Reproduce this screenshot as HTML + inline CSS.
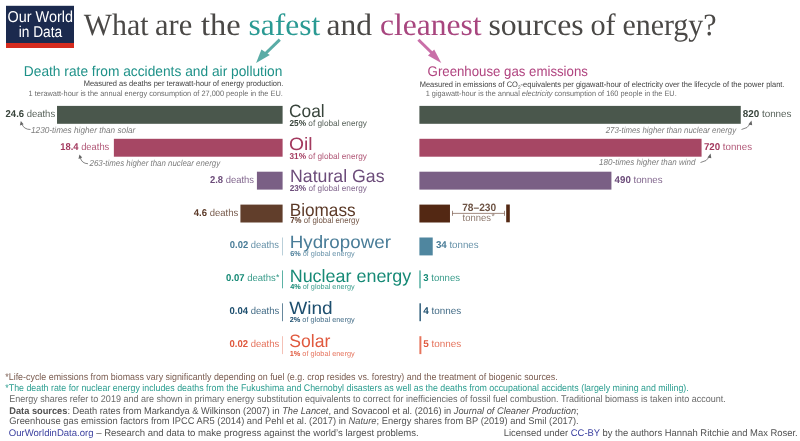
<!DOCTYPE html>
<html><head><meta charset="utf-8"><style>
html,body{margin:0;padding:0;background:#fff;width:800px;height:441px;overflow:hidden}
svg{display:block;will-change:transform}
</style></head><body>
<svg width="800" height="441" viewBox="0 0 800 441" text-rendering="geometricPrecision">
<rect x="6.00" y="5.80" width="68.00" height="37.20" fill="#1b2a4e"/>
<rect x="6.00" y="43.00" width="68.00" height="5.00" fill="#d52b1e"/>
<text x="40.30" y="21.70" font-size="15.8" fill="#ffffff" font-family="'Liberation Sans', sans-serif" text-anchor="middle" textLength="65.50" lengthAdjust="spacingAndGlyphs">Our World</text>
<text x="40.40" y="37.00" font-size="15.6" fill="#ffffff" font-family="'Liberation Sans', sans-serif" text-anchor="middle" textLength="43.50" lengthAdjust="spacingAndGlyphs">in Data</text>
<text x="83.80" y="34.60" font-size="31" fill="#4a4846" font-family="'Liberation Serif', serif" textLength="64.80" lengthAdjust="spacingAndGlyphs">What</text>
<text x="155.00" y="34.60" font-size="31" fill="#4a4846" font-family="'Liberation Serif', serif" textLength="37.20" lengthAdjust="spacingAndGlyphs">are</text>
<text x="201.00" y="34.60" font-size="31" fill="#4a4846" font-family="'Liberation Serif', serif" textLength="39.60" lengthAdjust="spacingAndGlyphs">the</text>
<text x="248.40" y="34.60" font-size="31" fill="#2a9a93" font-family="'Liberation Serif', serif" textLength="71.80" lengthAdjust="spacingAndGlyphs">safest</text>
<text x="326.60" y="34.60" font-size="31" fill="#4a4846" font-family="'Liberation Serif', serif" textLength="45.40" lengthAdjust="spacingAndGlyphs">and</text>
<text x="379.90" y="34.60" font-size="31" fill="#a8467f" font-family="'Liberation Serif', serif" textLength="101.70" lengthAdjust="spacingAndGlyphs">cleanest</text>
<text x="488.40" y="34.60" font-size="31" fill="#4a4846" font-family="'Liberation Serif', serif" textLength="95.20" lengthAdjust="spacingAndGlyphs">sources</text>
<text x="590.40" y="34.60" font-size="31" fill="#4a4846" font-family="'Liberation Serif', serif" textLength="25.20" lengthAdjust="spacingAndGlyphs">of</text>
<text x="622.40" y="34.60" font-size="31" fill="#4a4846" font-family="'Liberation Serif', serif" textLength="94.20" lengthAdjust="spacingAndGlyphs">energy?</text>
<text x="282.30" y="76.40" font-size="14.3" fill="#1e9188" font-family="'Liberation Sans', sans-serif" text-anchor="end" textLength="258.50" lengthAdjust="spacingAndGlyphs">Death rate from accidents and air pollution</text>
<text x="283.30" y="86.40" font-size="7.9" fill="#3e3e3e" font-family="'Liberation Sans', sans-serif" text-anchor="end" textLength="199.60" lengthAdjust="spacingAndGlyphs">Measured as deaths per terawatt-hour of energy production.</text>
<text x="282.90" y="95.60" font-size="7.8" fill="#6c6c6c" font-family="'Liberation Sans', sans-serif" text-anchor="end" textLength="254.30" lengthAdjust="spacingAndGlyphs">1 terawatt-hour is the annual energy consumption of 27,000 people in the EU.</text>
<text x="427.60" y="75.80" font-size="14.0" fill="#b0437f" font-family="'Liberation Sans', sans-serif" textLength="160.30" lengthAdjust="spacingAndGlyphs">Greenhouse gas emissions</text>
<text x="419.70" y="87.00" font-size="7.9" fill="#3e3e3e" font-family="'Liberation Sans', sans-serif" textLength="364.80" lengthAdjust="spacingAndGlyphs">Measured in emissions of CO<tspan font-size="5" dy="1.5">2</tspan><tspan dy="-1.5">-equivalents per gigawatt-hour of electricity over the lifecycle of the power plant.</tspan></text>
<text x="425.70" y="95.70" font-size="7.8" fill="#6c6c6c" font-family="'Liberation Sans', sans-serif" textLength="251.00" lengthAdjust="spacingAndGlyphs">1 gigawatt-hour is the annual <tspan font-style="italic">electricity</tspan> consumption of 160 people in the EU.</text>
<rect x="57.02" y="105.90" width="225.58" height="17.90" fill="#4a574c"/>
<rect x="419.40" y="105.90" width="321.36" height="17.90" fill="#4a574c"/>
<text x="55.15" y="116.95" font-size="9.9" fill="#38443b" font-family="'Liberation Sans', sans-serif" text-anchor="end" textLength="49.55" lengthAdjust="spacingAndGlyphs"><tspan font-weight="bold">24.6</tspan><tspan opacity="0.85"> deaths</tspan></text>
<text x="742.70" y="117.00" font-size="9.9" fill="#38443b" font-family="'Liberation Sans', sans-serif" textLength="48.85" lengthAdjust="spacingAndGlyphs"><tspan font-weight="bold">820</tspan><tspan opacity="0.85"> tonnes</tspan></text>
<text x="289.00" y="117.00" font-size="17.9" fill="#38443b" font-family="'Liberation Sans', sans-serif" textLength="35.60" lengthAdjust="spacingAndGlyphs">Coal</text>
<text x="289.50" y="126.00" font-size="8.6" fill="#38443b" font-family="'Liberation Sans', sans-serif" textLength="77.50" lengthAdjust="spacingAndGlyphs"><tspan font-weight="bold">25%</tspan><tspan opacity="0.85"> of global energy</tspan></text>
<rect x="113.87" y="138.80" width="168.73" height="17.90" fill="#a64764"/>
<rect x="419.40" y="138.80" width="282.17" height="17.90" fill="#a64764"/>
<text x="109.30" y="150.00" font-size="9.9" fill="#a33a5f" font-family="'Liberation Sans', sans-serif" text-anchor="end" textLength="49.00" lengthAdjust="spacingAndGlyphs"><tspan font-weight="bold">18.4</tspan><tspan opacity="0.85"> deaths</tspan></text>
<text x="703.90" y="150.00" font-size="9.9" fill="#a33a5f" font-family="'Liberation Sans', sans-serif" textLength="48.15" lengthAdjust="spacingAndGlyphs"><tspan font-weight="bold">720</tspan><tspan opacity="0.85"> tonnes</tspan></text>
<text x="289.00" y="150.00" font-size="17.9" fill="#a33a5f" font-family="'Liberation Sans', sans-serif" textLength="23.60" lengthAdjust="spacingAndGlyphs">Oil</text>
<text x="289.50" y="159.00" font-size="8.6" fill="#a33a5f" font-family="'Liberation Sans', sans-serif" textLength="77.50" lengthAdjust="spacingAndGlyphs"><tspan font-weight="bold">31%</tspan><tspan opacity="0.85"> of global energy</tspan></text>
<rect x="256.92" y="171.70" width="25.68" height="17.90" fill="#7a5f85"/>
<rect x="419.40" y="171.70" width="192.03" height="17.90" fill="#7a5f85"/>
<text x="254.00" y="182.70" font-size="9.9" fill="#6c4c7a" font-family="'Liberation Sans', sans-serif" text-anchor="end" textLength="44.10" lengthAdjust="spacingAndGlyphs"><tspan font-weight="bold">2.8</tspan><tspan opacity="0.85"> deaths</tspan></text>
<text x="614.60" y="182.80" font-size="9.9" fill="#6c4c7a" font-family="'Liberation Sans', sans-serif" textLength="48.00" lengthAdjust="spacingAndGlyphs"><tspan font-weight="bold">490</tspan><tspan opacity="0.85"> tonnes</tspan></text>
<text x="290.05" y="182.00" font-size="17.9" fill="#6c4c7a" font-family="'Liberation Sans', sans-serif" textLength="94.45" lengthAdjust="spacingAndGlyphs">Natural Gas</text>
<text x="289.70" y="191.00" font-size="8.6" fill="#6c4c7a" font-family="'Liberation Sans', sans-serif" textLength="77.20" lengthAdjust="spacingAndGlyphs"><tspan font-weight="bold">23%</tspan><tspan opacity="0.85"> of global energy</tspan></text>
<rect x="240.42" y="204.60" width="42.18" height="17.90" fill="#613e2b"/>
<rect x="419.40" y="204.60" width="30.57" height="17.90" fill="#532813"/>
<text x="238.20" y="215.60" font-size="9.9" fill="#5c3a28" font-family="'Liberation Sans', sans-serif" text-anchor="end" textLength="44.40" lengthAdjust="spacingAndGlyphs"><tspan font-weight="bold">4.6</tspan><tspan opacity="0.85"> deaths</tspan></text>
<text x="289.70" y="216.00" font-size="17.9" fill="#5c3a28" font-family="'Liberation Sans', sans-serif" textLength="65.95" lengthAdjust="spacingAndGlyphs">Biomass</text>
<text x="290.20" y="223.00" font-size="8.6" fill="#5c3a28" font-family="'Liberation Sans', sans-serif" textLength="69.20" lengthAdjust="spacingAndGlyphs"><tspan font-weight="bold">7%</tspan><tspan opacity="0.85"> of global energy</tspan></text>
<rect x="282.00" y="237.50" width="1.00" height="17.90" fill="#4f869f" opacity="0.4"/>
<rect x="419.40" y="237.50" width="13.32" height="17.90" fill="#4f869f"/>
<text x="279.00" y="248.40" font-size="9.9" fill="#4a7d98" font-family="'Liberation Sans', sans-serif" text-anchor="end" textLength="49.20" lengthAdjust="spacingAndGlyphs"><tspan font-weight="bold">0.02</tspan><tspan opacity="0.85"> deaths</tspan></text>
<text x="435.90" y="248.20" font-size="9.9" fill="#4a7d98" font-family="'Liberation Sans', sans-serif" textLength="42.70" lengthAdjust="spacingAndGlyphs"><tspan font-weight="bold">34</tspan><tspan opacity="0.85"> tonnes</tspan></text>
<text x="289.70" y="248.00" font-size="17.9" fill="#4a7d98" font-family="'Liberation Sans', sans-serif" textLength="101.30" lengthAdjust="spacingAndGlyphs">Hydropower</text>
<text x="290.20" y="256.00" font-size="7.3" fill="#4a7d98" font-family="'Liberation Sans', sans-serif" textLength="64.50" lengthAdjust="spacingAndGlyphs"><tspan font-weight="bold">6%</tspan><tspan opacity="0.85"> of global energy</tspan></text>
<rect x="282.00" y="270.40" width="1.00" height="17.90" fill="#17917f" opacity="0.7"/>
<rect x="419.40" y="270.40" width="1.20" height="17.90" fill="#17917f" opacity="0.9"/>
<text x="275.80" y="281.00" font-size="9.9" fill="#168a76" font-family="'Liberation Sans', sans-serif" text-anchor="end" textLength="49.75" lengthAdjust="spacingAndGlyphs"><tspan font-weight="bold">0.07</tspan><tspan opacity="0.85"> deaths</tspan></text>
<text x="277.70" y="280.20" font-size="8.5" fill="#168a76" font-family="'Liberation Sans', sans-serif" text-anchor="middle">*</text>
<text x="423.30" y="281.00" font-size="9.9" fill="#168a76" font-family="'Liberation Sans', sans-serif" textLength="36.80" lengthAdjust="spacingAndGlyphs"><tspan font-weight="bold">3</tspan><tspan opacity="0.85"> tonnes</tspan></text>
<text x="289.70" y="282.00" font-size="17.9" fill="#168a76" font-family="'Liberation Sans', sans-serif" textLength="121.60" lengthAdjust="spacingAndGlyphs">Nuclear energy</text>
<text x="290.20" y="289.00" font-size="7.3" fill="#168a76" font-family="'Liberation Sans', sans-serif" textLength="64.50" lengthAdjust="spacingAndGlyphs"><tspan font-weight="bold">4%</tspan><tspan opacity="0.85"> of global energy</tspan></text>
<rect x="282.00" y="303.30" width="1.00" height="17.90" fill="#265674" opacity="0.7"/>
<rect x="419.40" y="303.30" width="1.57" height="17.90" fill="#265674" opacity="0.9"/>
<text x="279.20" y="313.85" font-size="9.9" fill="#1d4e6e" font-family="'Liberation Sans', sans-serif" text-anchor="end" textLength="49.60" lengthAdjust="spacingAndGlyphs"><tspan font-weight="bold">0.04</tspan><tspan opacity="0.85"> deaths</tspan></text>
<text x="423.30" y="314.00" font-size="9.9" fill="#1d4e6e" font-family="'Liberation Sans', sans-serif" textLength="38.00" lengthAdjust="spacingAndGlyphs"><tspan font-weight="bold">4</tspan><tspan opacity="0.85"> tonnes</tspan></text>
<text x="289.20" y="314.00" font-size="17.9" fill="#1d4e6e" font-family="'Liberation Sans', sans-serif" textLength="43.40" lengthAdjust="spacingAndGlyphs">Wind</text>
<text x="289.70" y="322.00" font-size="7.3" fill="#1d4e6e" font-family="'Liberation Sans', sans-serif" textLength="65.00" lengthAdjust="spacingAndGlyphs"><tspan font-weight="bold">2%</tspan><tspan opacity="0.85"> of global energy</tspan></text>
<rect x="282.00" y="336.20" width="1.00" height="17.90" fill="#e4654a" opacity="0.4"/>
<rect x="419.40" y="336.20" width="1.96" height="17.90" fill="#e4654a" opacity="0.9"/>
<text x="279.20" y="346.80" font-size="9.9" fill="#e0593e" font-family="'Liberation Sans', sans-serif" text-anchor="end" textLength="49.60" lengthAdjust="spacingAndGlyphs"><tspan font-weight="bold">0.02</tspan><tspan opacity="0.85"> deaths</tspan></text>
<text x="423.30" y="346.80" font-size="9.9" fill="#e0593e" font-family="'Liberation Sans', sans-serif" textLength="38.00" lengthAdjust="spacingAndGlyphs"><tspan font-weight="bold">5</tspan><tspan opacity="0.85"> tonnes</tspan></text>
<text x="289.20" y="347.00" font-size="17.9" fill="#e0593e" font-family="'Liberation Sans', sans-serif" textLength="41.10" lengthAdjust="spacingAndGlyphs">Solar</text>
<text x="289.70" y="355.50" font-size="7.3" fill="#e0593e" font-family="'Liberation Sans', sans-serif" textLength="65.00" lengthAdjust="spacingAndGlyphs"><tspan font-weight="bold">1%</tspan><tspan opacity="0.85"> of global energy</tspan></text>
<rect x="506.20" y="204.50" width="3.60" height="17.80" fill="#532813"/>
<rect x="452.00" y="212.90" width="52.80" height="0.80" fill="#8a6e62"/>
<rect x="452.00" y="210.80" width="0.80" height="5.00" fill="#8a6e62"/>
<rect x="504.00" y="210.80" width="0.80" height="5.00" fill="#8a6e62"/>
<text x="479.20" y="211.40" font-size="10.6" fill="#6e5445" font-family="'Liberation Sans', sans-serif" text-anchor="middle" textLength="34.00" lengthAdjust="spacingAndGlyphs" font-weight="bold">78–230</text>
<text x="476.80" y="220.80" font-size="9.9" fill="#8c776c" font-family="'Liberation Sans', sans-serif" text-anchor="middle" textLength="28.40" lengthAdjust="spacingAndGlyphs">tonnes</text>
<text x="493.20" y="218.60" font-size="8.5" fill="#8c776c" font-family="'Liberation Sans', sans-serif" text-anchor="middle">*</text>
<text x="31.00" y="132.50" font-size="8.7" fill="#7b7b7b" font-family="'Liberation Sans', sans-serif" textLength="104.30" lengthAdjust="spacingAndGlyphs" font-style="italic">1230-times higher than solar</text>
<text x="89.50" y="165.80" font-size="8.7" fill="#7b7b7b" font-family="'Liberation Sans', sans-serif" textLength="130.70" lengthAdjust="spacingAndGlyphs" font-style="italic">263-times higher than nuclear energy</text>
<text x="736.20" y="132.50" font-size="8.7" fill="#7b7b7b" font-family="'Liberation Sans', sans-serif" text-anchor="end" textLength="130.50" lengthAdjust="spacingAndGlyphs" font-style="italic">273-times higher than nuclear energy</text>
<text x="695.50" y="164.60" font-size="8.7" fill="#7b7b7b" font-family="'Liberation Sans', sans-serif" text-anchor="end" textLength="96.40" lengthAdjust="spacingAndGlyphs" font-style="italic">180-times higher than wind</text>
<text x="5.30" y="380.00" font-size="9.7" fill="#7a5c50" font-family="'Liberation Sans', sans-serif" textLength="552.40" lengthAdjust="spacingAndGlyphs">*Life-cycle emissions from biomass vary significantly depending on fuel (e.g. crop resides vs. forestry) and the treatment of biogenic sources.</text>
<text x="5.30" y="391.00" font-size="9.7" fill="#2a9d8f" font-family="'Liberation Sans', sans-serif" textLength="683.40" lengthAdjust="spacingAndGlyphs">*The death rate for nuclear energy includes deaths from the Fukushima and Chernobyl disasters as well as the deaths from occupational accidents (largely mining and milling).</text>
<text x="9.30" y="401.75" font-size="9.7" fill="#6a6a6a" font-family="'Liberation Sans', sans-serif" textLength="716.40" lengthAdjust="spacingAndGlyphs">Energy shares refer to 2019 and are shown in primary energy substitution equivalents to correct for inefficiencies of fossil fuel combustion. Traditional biomass is taken into account.</text>
<text x="9.30" y="413.80" font-size="9.7" fill="#505050" font-family="'Liberation Sans', sans-serif" textLength="569.40" lengthAdjust="spacingAndGlyphs"><tspan font-weight="bold">Data sources</tspan>: Death rates from Markandya &amp; Wilkinson (2007) in <tspan font-style="italic">The Lancet</tspan>, and Sovacool et al. (2016) in <tspan font-style="italic">Journal of Cleaner Production</tspan>;</text>
<text x="9.30" y="424.25" font-size="9.7" fill="#555555" font-family="'Liberation Sans', sans-serif" textLength="569.40" lengthAdjust="spacingAndGlyphs">Greenhouse gas emission factors from IPCC AR5 (2014) and Pehl et al. (2017) in <tspan font-style="italic">Nature</tspan>; Energy shares from BP (2019) and Smil (2017).</text>
<text x="8.80" y="435.90" font-size="9.7" fill="#505050" font-family="'Liberation Sans', sans-serif" textLength="409.90" lengthAdjust="spacingAndGlyphs"><tspan fill="#3c41a0">OurWorldinData.org</tspan> – Research and data to make progress against the world’s largest problems.</text>
<text x="797.70" y="435.90" font-size="9.7" fill="#505050" font-family="'Liberation Sans', sans-serif" text-anchor="end" textLength="293.90" lengthAdjust="spacingAndGlyphs">Licensed under <tspan fill="#3c41a0">CC-BY</tspan> by the authors Hannah Ritchie and Max Roser.</text>
<path d="M279.8,39.7 L264.5,54.5" stroke="#5aaca6" stroke-width="3" fill="none"/>
<path d="M256.1,62.9 L261.4,49.4 L269.8,55 Z" fill="#5aaca6"/>
<path d="M418.4,39.7 L433.5,54.5" stroke="#c96fa8" stroke-width="3" fill="none"/>
<path d="M441.3,62.9 L434.2,49.4 L428,55.5 Z" fill="#c96fa8"/>
<path d="M30.5,129.5 Q24,129.5 21.8,124" stroke="#666666" stroke-width="0.8" fill="none"/>
<path d="M20.8,121 L19.9,125.6 L23.6,124.2 Z" fill="#666666"/>
<path d="M88,163.75 Q81.5,163.5 80.2,157.2" stroke="#666666" stroke-width="0.8" fill="none"/>
<path d="M79.4,154.4 L78.5,159 L82.2,157.6 Z" fill="#666666"/>
<path d="M741.5,129.5 Q748,128.5 750.5,123.5" stroke="#666666" stroke-width="0.8" fill="none"/>
<path d="M751.5,120.5 L748.3,124.4 L752.2,125.2 Z" fill="#666666"/>
<path d="M700.5,162.5 Q707,161.5 709.6,156.6" stroke="#666666" stroke-width="0.8" fill="none"/>
<path d="M710.6,153.6 L707.4,157.5 L711.3,158.3 Z" fill="#666666"/>
</svg>
</body></html>
